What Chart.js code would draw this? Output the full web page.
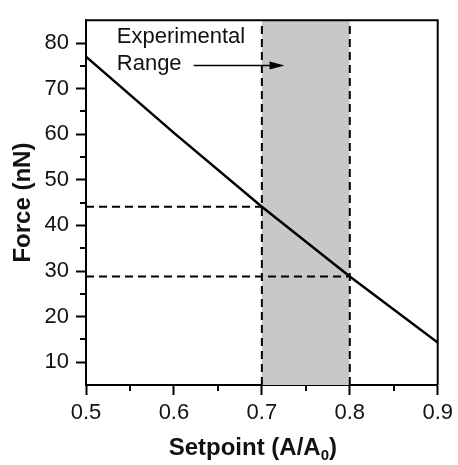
<!DOCTYPE html>
<html>
<head>
<meta charset="utf-8">
<script src="https://cdn.jsdelivr.net/npm/chart.js@4.4.1/dist/chart.umd.min.js"></script>
<style>
  body { margin: 0; background: #fff; }
  #wrap { width: 458px; height: 465px; }
</style>
</head>
<body>
<div id="wrap"><canvas id="myChart" width="458" height="465"></canvas></div>
<script>
// curve
const setpoints = [0.5, 0.6, 0.7, 0.8, 0.9];
const forces = [77.0, 60.3, 44.1, 28.8, 14.3];

// experimental range and the forces at its ends
const rangeLow = 0.7;
const rangeHigh = 0.8;
const forceAtLow = 44.1;
const forceAtHigh = 28.8;

const xMin = 0.5, xMax = 0.9;
const yMin = 5, yMax = 85;

const FONT = "'Liberation Sans', Arial, sans-serif";

function isMajorX(v) {
    return Math.round(v * 100) % 10 === 0;
}
function isMajorY(v) {
    return Math.round(v) % 10 === 0 && v >= 10 && v <= 80;
}

// frame, minor ticks, annotation and x title
const extras = {
    id: 'extras',
    afterDraw(chart) {
        const ctx = chart.ctx;
        const a = chart.chartArea;
        const xs = chart.scales.x;
        const ys = chart.scales.y;
        ctx.save();
        ctx.strokeStyle = '#000';
        ctx.lineWidth = 2;
        ctx.beginPath();
        ctx.moveTo(a.left, a.top);
        ctx.lineTo(a.right, a.top);
        ctx.lineTo(a.right, a.bottom);
        ctx.stroke();

        // minor ticks
        ctx.lineWidth = 2;
        ctx.beginPath();
        for (let v = 15; v < yMax; v += 10) {
            const py = Math.round(ys.getPixelForValue(v));
            ctx.moveTo(a.left - 6, py);
            ctx.lineTo(a.left, py);
        }
        for (let v = 0.55; v < xMax; v += 0.1) {
            const px = Math.round(xs.getPixelForValue(v));
            ctx.moveTo(px, a.bottom);
            ctx.lineTo(px, a.bottom + 6);
        }
        ctx.stroke();

        // annotation
        ctx.fillStyle = '#111';
        ctx.font = '22px ' + FONT;
        ctx.textBaseline = 'middle';
        ctx.textAlign = 'left';
        const tx = xs.getPixelForValue(0.535);
        ctx.fillText('Experimental', tx, ys.getPixelForValue(81.3));
        ctx.fillText('Range', tx, ys.getPixelForValue(75.5));

        const ay = Math.round(ys.getPixelForValue(75.2)) + 0.5;
        const ax0 = xs.getPixelForValue(0.6225);
        const ax1 = xs.getPixelForValue(0.7258);
        ctx.strokeStyle = '#000';
        ctx.lineWidth = 1.5;
        ctx.beginPath();
        ctx.moveTo(ax0, ay);
        ctx.lineTo(ax1 - 12, ay);
        ctx.stroke();
        ctx.fillStyle = '#000';
        ctx.beginPath();
        ctx.moveTo(ax1, ay);
        ctx.lineTo(ax1 - 15, ay - 4);
        ctx.lineTo(ax1 - 15, ay + 4);
        ctx.closePath();
        ctx.fill();

        // x axis title with subscript
        ctx.fillStyle = '#111';
        ctx.textBaseline = 'alphabetic';
        const big = 'bold 24px ' + FONT;
        const small = 'bold 15px ' + FONT;
        const p1 = 'Setpoint (A/A', p2 = '0', p3 = ')';
        ctx.font = big;
        const w1 = ctx.measureText(p1).width;
        const w3 = ctx.measureText(p3).width;
        ctx.font = small;
        const w2 = ctx.measureText(p2).width;
        const total = w1 + w2 + w3;
        let cx = (a.left + a.right) / 2 - 9 - total / 2;
        const base = 455;
        ctx.font = big;
        ctx.fillText(p1, cx, base);
        cx += w1;
        ctx.font = small;
        ctx.fillText(p2, cx, base + 5);
        cx += w2;
        ctx.font = big;
        ctx.fillText(p3, cx, base);
        ctx.restore();
    }
};

const dashed = [8, 5];

new Chart('myChart', {
    type: 'line',
    data: {
        datasets: [
            {
                data: setpoints.map((s, i) => ({ x: s, y: forces[i] })),
                borderColor: '#000',
                borderWidth: 2.5,
                pointRadius: 0,
                tension: 0,
                fill: false,
                order: 1
            },
            {
                data: [{ x: rangeLow, y: yMin }, { x: rangeLow, y: yMax }],
                borderColor: '#000',
                borderWidth: 2,
                borderDash: dashed,
                pointRadius: 0,
                fill: false,
                order: 2
            },
            {
                data: [{ x: rangeHigh, y: yMin }, { x: rangeHigh, y: yMax }],
                borderColor: '#000',
                borderWidth: 2,
                borderDash: dashed,
                pointRadius: 0,
                fill: false,
                order: 2
            },
            {
                data: [{ x: xMin, y: forceAtLow }, { x: rangeLow, y: forceAtLow }],
                borderColor: '#000',
                borderWidth: 2,
                borderDash: dashed,
                pointRadius: 0,
                fill: false,
                order: 2
            },
            {
                data: [{ x: xMin, y: forceAtHigh }, { x: rangeHigh, y: forceAtHigh }],
                borderColor: '#000',
                borderWidth: 2,
                borderDash: dashed,
                pointRadius: 0,
                fill: false,
                order: 2
            },
            {
                data: [{ x: rangeLow, y: yMax }, { x: rangeHigh, y: yMax }],
                borderWidth: 0,
                borderColor: 'rgba(0,0,0,0)',
                backgroundColor: '#c8c8c8',
                pointRadius: 0,
                fill: 'start',
                order: 3
            }
        ]
    },
    options: {
        responsive: false,
        animation: false,
        layout: { padding: { left: 0, right: 16, top: 10, bottom: 0 } },
        plugins: {
            legend: { display: false },
            tooltip: { enabled: false }
        },
        scales: {
            x: {
                type: 'linear',
                min: xMin,
                max: xMax,
                border: { display: true, color: '#000', width: 2 },
                grid: {
                    drawOnChartArea: false,
                    tickLength: 10,
                    tickWidth: 2,
                    tickColor: (c) => isMajorX(c.tick.value) ? '#000' : 'rgba(0,0,0,0)'
                },
                ticks: {
                    stepSize: 0.05,
                    autoSkip: false,
                    maxRotation: 0,
                    padding: 5,
                    color: '#111',
                    font: { family: FONT, size: 22 },
                    callback: (v) => isMajorX(v) ? (Math.round(v * 10) / 10).toFixed(1) : ''
                },
                afterFit: (s) => { s.height = 80; }
            },
            y: {
                min: yMin,
                max: yMax,
                border: { display: true, color: '#000', width: 2 },
                grid: {
                    drawOnChartArea: false,
                    tickLength: 10,
                    tickWidth: 2,
                    tickColor: (c) => isMajorY(c.tick.value) ? '#000' : 'rgba(0,0,0,0)'
                },
                ticks: {
                    stepSize: 5,
                    autoSkip: false,
                    padding: 7,
                    color: '#111',
                    font: { family: FONT, size: 22 },
                    callback: (v) => isMajorY(v) ? String(v) : ''
                },
                title: {
                    display: true,
                    text: 'Force (nN)',
                    color: '#111',
                    font: { family: FONT, size: 24, weight: 'bold' },
                    padding: { top: 9, bottom: 0 }
                },
                afterFit: (s) => { s.width = 86; }
            }
        }
    },
    plugins: [extras]
});
</script>
</body>
</html>
